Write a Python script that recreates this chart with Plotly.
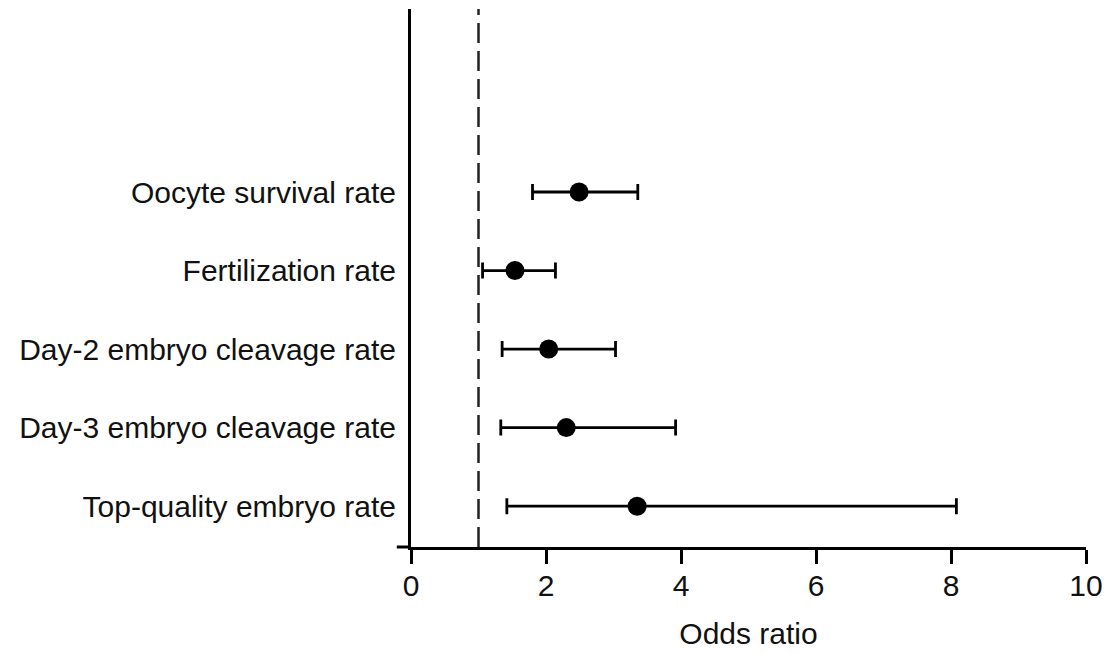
import plotly.graph_objects as go

categories = ["Oocyte survival rate", "Fertilization rate", "Day-2 embryo cleavage rate",
              "Day-3 embryo cleavage rate", "Top-quality embryo rate"]
odds_ratio = [2.49, 1.54, 2.04, 2.30, 3.35]
ci_low = [1.80, 1.06, 1.35, 1.33, 1.42]
ci_high = [3.36, 2.14, 3.03, 3.92, 8.08]
x_ticks = [0, 2, 4, 6, 8, 10]

ypos = list(range(len(categories), 0, -1))
err_plus = [h - p for h, p in zip(ci_high, odds_ratio)]
err_minus = [p - l for p, l in zip(odds_ratio, ci_low)]

FONT = "Liberation Sans, Arial, Helvetica, sans-serif"
TXT = "#111"

fig = go.Figure()
fig.add_trace(go.Scatter(
    x=odds_ratio, y=ypos, mode="markers",
    marker=dict(color="black", size=19),
    error_x=dict(type="data", symmetric=False, array=err_plus, arrayminus=err_minus,
                 color="black", thickness=2.8, width=8),
    showlegend=False,
))

# reference line at OR = 1
fig.add_shape(type="line", xref="x", yref="paper", x0=1, x1=1, y0=0, y1=1,
              line=dict(color="#222", width=2.5, dash="20px,8px"))
# small tick on the y axis at the bottom
fig.add_shape(type="line", xref="paper", yref="paper", x0=-0.021, x1=0, y0=0, y1=0,
              line=dict(color="black", width=3))

fig.update_xaxes(
    range=[0, 10], tickvals=x_ticks, ticktext=[str(v) for v in x_ticks],
    showline=True, linecolor="black", linewidth=3,
    ticks="outside", ticklen=14, tickwidth=3, tickcolor="black",
    showgrid=False, zeroline=False,
    ticklabelstandoff=-4,
    tickfont=dict(family=FONT, size=30, color=TXT),
    title=dict(text="Odds ratio", font=dict(family=FONT, size=30, color=TXT), standoff=22),
)
fig.update_yaxes(
    range=[0.48, 7.33], tickvals=ypos, ticktext=categories,
    showline=True, linecolor="black", linewidth=3,
    ticks="", showgrid=False, zeroline=False,
    ticklabelstandoff=6,
    tickfont=dict(family=FONT, size=30, color=TXT),
)
fig.update_layout(
    width=1112, height=654,
    margin=dict(l=411, r=22, t=9, b=104),
    plot_bgcolor="white", paper_bgcolor="white",
)
fig.write_html(
    "out.html",
    config={"displayModeBar": False},
    post_script="document.body.style.margin='0';document.body.style.overflow='hidden';",
)
